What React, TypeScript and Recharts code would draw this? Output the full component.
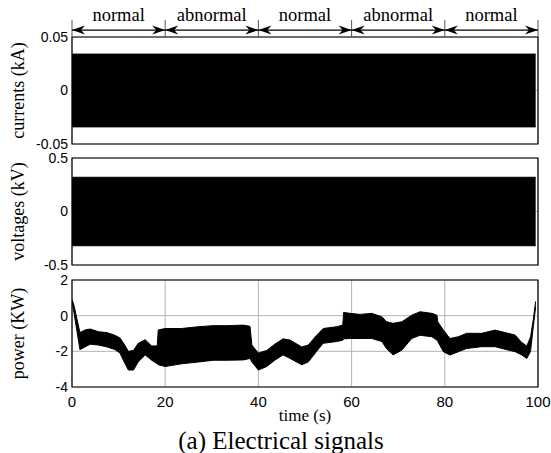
import React from 'react'
import {
  ComposedChart,
  Area,
  XAxis,
  YAxis,
  CartesianGrid,
  ReferenceLine,
  ReferenceArea,
} from 'recharts'

// x axis (time in seconds) shared by all three panels
const timeTicks = [0, 20, 40, 60, 80, 100]

// operating phases drawn above the first panel
const phaseBounds = [0, 20, 40, 60, 80, 100]
const phaseNames = ['normal', 'abnormal', 'normal', 'abnormal', 'normal']

// currents (kA): envelope of the dense sine signal
const currentTime = [0, 99.5]
const currentUpper = [0.034, 0.034]
const currentLower = [-0.034, -0.034]
const currentTicks = [-0.05, 0, 0.05]

// voltages (kV): envelope of the dense sine signal
const voltageTime = [0, 99.5]
const voltageUpper = [0.32, 0.32]
const voltageLower = [-0.32, -0.32]
const voltageTicks = [-0.5, 0, 0.5]

// power (KW): upper / lower envelope
const powerTime = [
  0, 0.4, 1.7, 2.8, 3.9, 5.7, 7.5, 9.2, 10.3, 11.2, 12.1, 13.2, 14.2, 15.7,
  17.1, 18.3, 18.5, 20, 23.5, 27.1, 30.3, 33.2, 36.8, 38.2, 38.6, 40, 41.8,
  43.5, 45.3, 46.8, 49.3, 50.7, 52.5, 53.9, 56.8, 58.1, 58.3, 59.7, 61.8, 64.3,
  66.5, 67.5, 68.9, 70.8, 72.9, 74.7, 77.2, 78.3, 78.5, 79.7, 81.1, 82.9, 84.7,
  87.9, 90.8, 93.6, 95.1, 96.5, 97.6, 98.4, 99.0, 99.5,
]
const powerUpper = [
  0.9, 0.6, -0.95, -0.8, -0.75, -0.9, -0.95, -1.1, -1.25, -1.6, -2.0, -1.95,
  -1.55, -1.35, -1.7, -1.7, -0.8, -0.72, -0.72, -0.62, -0.56, -0.56, -0.53,
  -0.6, -1.65, -2.1, -1.95, -1.6, -1.3, -1.37, -1.75, -1.65, -1.1, -0.72, -0.62,
  -0.53, 0.18, 0.13, 0.07, 0.13, -0.06, -0.34, -0.43, -0.34, 0.03, 0.22, 0.13,
  0.03, -0.35, -0.81, -1.28, -1.18, -0.99, -0.99, -0.81, -0.99, -1.09, -1.5,
  -1.7, -1.2, -0.2, 0.8,
]
const powerLower = [
  0.8, 0.2, -1.9, -1.75, -1.6, -1.65, -1.75, -1.9, -2.1, -2.6, -3.05, -3.05,
  -2.6, -2.2, -2.5, -2.7, -2.75, -2.85, -2.7, -2.6, -2.5, -2.5, -2.48, -2.4,
  -2.6, -3.05, -2.85, -2.5, -2.2, -2.4, -2.75, -2.6, -2.0, -1.55, -1.45, -1.38,
  -1.3, -1.28, -1.28, -1.28, -1.45, -1.85, -2.2, -1.93, -1.28, -1.1, -1.18,
  -1.37, -1.45, -2.02, -2.21, -2.02, -1.84, -1.74, -1.74, -1.93, -2.02, -2.2,
  -2.4, -2.0, -0.6, 0.5,
]
const powerTicks = [-4, -2, 0, 2]

const toRows = (t: number[], hi: number[], lo: number[]) =>
  t.map((x, i) => ({ t: x, band: [lo[i], hi[i]] }))

const tickFont = { fontFamily: 'Liberation Sans, Arial', fontSize: 14, fill: '#000' }
const serif = 'Liberation Serif, Times New Roman'
const gridColor = '#b4b4b4'

const Arrow = (props: any) => {
  const { x1, y1, x2 } = props
  const y = y1
  return (
    <g>
      <line x1={x1} y1={y} x2={x2} y2={y} stroke="#000" strokeWidth={1.2} />
      <path
        d={`M${x1},${y} L${x1 + 13},${y - 4.5} L${x1 + 9},${y} L${x1 + 13},${y + 4.5} Z`}
        fill="#000"
      />
      <path
        d={`M${x2},${y} L${x2 - 13},${y - 4.5} L${x2 - 9},${y} L${x2 - 13},${y + 4.5} Z`}
        fill="#000"
      />
    </g>
  )
}

function Panel({
  rows,
  ticks,
  label,
  top,
  height,
  marginTop,
  marginBottom,
  showTime,
  children,
}: any) {
  const domain = [ticks[0], ticks[ticks.length - 1]]
  return (
    <div style={{ position: 'absolute', left: 0, top }}>
      <ComposedChart
        width={551}
        height={height}
        data={rows}
        margin={{ top: marginTop, right: 13, bottom: marginBottom, left: 12 }}
      >
        <CartesianGrid stroke={gridColor} strokeWidth={1} />
        <XAxis
          dataKey="t"
          type="number"
          domain={[0, 100]}
          ticks={timeTicks}
          interval={0}
          allowDataOverflow
          height={showTime ? 30 : 0}
          tick={showTime ? { ...tickFont, fontSize: 15 } : false}
          tickLine={false}
          axisLine={false}
          tickSize={0}
          tickMargin={9}
          label={
            showTime
              ? {
                  value: 'time (s)',
                  position: 'insideBottom',
                  offset: -4,
                  style: { fontFamily: serif, fontSize: 17, fill: '#000' },
                }
              : undefined
          }
        />
        <YAxis
          type="number"
          domain={domain}
          ticks={ticks}
          interval={0}
          allowDataOverflow
          width={60}
          tick={tickFont}
          tickLine={false}
          axisLine={false}
          tickSize={0}
          tickMargin={4}
          label={{
            value: label,
            angle: -90,
            position: 'insideLeft',
            offset: 6,
            style: { textAnchor: 'middle', fontFamily: serif, fontSize: 18, fill: '#000' },
          }}
        />
        <Area
          dataKey="band"
          type="linear"
          stroke="#000"
          strokeWidth={1}
          fill="#000"
          fillOpacity={1}
          isAnimationActive={false}
        />
        <ReferenceArea
          x1={0}
          x2={100}
          y1={domain[0]}
          y2={domain[1]}
          fill="none"
          stroke="#000"
          strokeWidth={1.2}
          ifOverflow="visible"
        />
        {children}
      </ComposedChart>
    </div>
  )
}

export default function App() {
  const arrowY = 0.0565
  const boundTop = 0.066
  return (
    <div
      style={{
        position: 'absolute',
        left: 0,
        top: 0,
        width: 551,
        height: 453,
        background: '#fff',
      }}
    >
      <Panel
        rows={toRows(currentTime, currentUpper, currentLower)}
        ticks={currentTicks}
        label="currents (kA)"
        top={0}
        height={160}
        marginTop={37}
        marginBottom={16}
      >
        {phaseBounds.map((b) => (
          <ReferenceLine
            key={'b' + b}
            segment={[
              { x: b, y: 0.05 },
              { x: b, y: boundTop },
            ]}
            stroke="#555"
            strokeWidth={1}
            ifOverflow="visible"
          />
        ))}
        {phaseNames.map((name, i) => (
          <ReferenceLine
            key={'p' + i}
            segment={[
              { x: phaseBounds[i], y: arrowY },
              { x: phaseBounds[i + 1], y: arrowY },
            ]}
            ifOverflow="visible"
            shape={Arrow}
            label={{
              value: name,
              position: 'top',
              offset: 9,
              style: { fontFamily: serif, fontSize: 18.5, fill: '#000' },
            }}
          />
        ))}
      </Panel>
      <Panel
        rows={toRows(voltageTime, voltageUpper, voltageLower)}
        ticks={voltageTicks}
        label="voltages (kV)"
        top={145}
        height={135}
        marginTop={13}
        marginBottom={15}
      />
      <Panel
        rows={toRows(powerTime, powerUpper, powerLower)}
        ticks={powerTicks}
        label="power (KW)"
        top={265}
        height={188}
        marginTop={15}
        marginBottom={36}
        showTime
      />
      <div
        style={{
          position: 'absolute',
          left: 281,
          top: 428,
          transform: 'translateX(-50%)',
          whiteSpace: 'nowrap',
          fontFamily: serif,
          fontSize: 25,
          lineHeight: '26px',
          color: '#000',
        }}
      >
        (a) Electrical signals
      </div>
    </div>
  )
}
